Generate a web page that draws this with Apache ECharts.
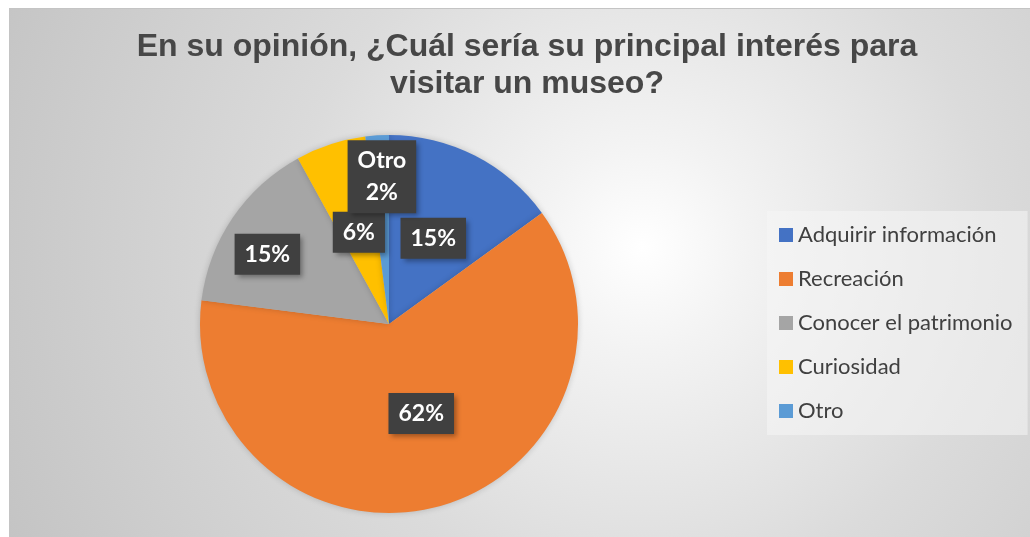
<!DOCTYPE html>
<html>
<head>
<meta charset="utf-8">
<script src="https://cdn.jsdelivr.net/npm/echarts@6/dist/echarts.min.js"></script>
<style>
    html, body { margin: 0; padding: 0; background: #fff; }
    #chart {
        position: absolute;
        left: 9px;
        top: 8px;
        width: 1021px;
        height: 529px;
        border-top: 1px solid #c4c4c4;
        border-left: 1px solid #c4c4c4;
        box-sizing: border-box;
    }
</style>
</head>
<body>
<div id="chart"></div>
<script>
const titleText = 'En su opinión, ¿Cuál sería su principal interés para\nvisitar un museo?';
const categories = ['Adquirir información', 'Recreación', 'Conocer el patrimonio', 'Curiosidad', 'Otro'];
const values = [15, 62, 15, 6, 2];
const colors = ['#4472C4', '#ED7D31', '#A5A5A5', '#FFC000', '#5B9BD5'];
// Excel moved a couple of labels away from the slice middle
const labelShift = [
    { dx: 0, dy: 1 },
    { dx: 8, dy: -5 },
    { dx: -41, dy: -15 },
    { dx: 0, dy: 1 },
    { dx: -1, dy: -50 }
];

const chartDom = document.getElementById('chart');
const myChart = echarts.init(chartDom);

const option = {
    backgroundColor: {
        type: 'radial',
        x: 0.62,
        y: 0.45,
        r: 1.32,
        colorStops: [
            { offset: 0, color: '#ffffff' },
            { offset: 0.15, color: '#f3f3f3' },
            { offset: 0.5, color: '#dbdbdb' },
            { offset: 1, color: '#c4c4c4' }
        ]
    },
    animation: false,
    color: colors,
    title: {
        text: titleText,
        left: 512,
        textAlign: 'center',
        top: 15,
        textStyle: {
            fontFamily: 'Liberation Sans',
            fontWeight: 'bold',
            fontSize: 32,
            lineHeight: 37,
            color: '#474747'
        }
    },
    legend: {
        orient: 'vertical',
        left: 757,
        top: 202,
        icon: 'rect',
        itemWidth: 14,
        itemHeight: 14,
        itemGap: 22,
        padding: [13, 15, 13, 12],
        backgroundColor: 'rgba(245,245,245,0.55)',
        textStyle: {
            fontFamily: 'Lato',
            fontSize: 22,
            color: '#404040'
        }
    },
    series: [
        {
            type: 'pie',
            center: [379, 315],
            radius: 189,
            startAngle: 90,
            clockwise: true,
            percentPrecision: 0,
            itemStyle: {
                shadowBlur: 6,
                shadowColor: 'rgba(0,0,0,0.18)'
            },
            emphasis: { disabled: true },
            label: {
                position: 'inside',
                formatter: function (p) {
                    return p.dataIndex === 4 ? p.name + '\n' + p.percent + '%' : p.percent + '%';
                },
                color: '#ffffff',
                fontFamily: 'Lato',
                fontWeight: 'bold',
                fontSize: 23,
                lineHeight: 32,
                backgroundColor: '#404040',
                padding: [5, 10, 4, 10],
                shadowBlur: 5,
                shadowOffsetX: 3,
                shadowOffsetY: 3,
                shadowColor: 'rgba(0,0,0,0.35)'
            },
            labelLine: { show: false },
            labelLayout: function (params) {
                return labelShift[params.dataIndex];
            },
            data: categories.map((name, i) => ({ name: name, value: values[i] }))
        }
    ]
};

myChart.setOption(option);
</script>
</body>
</html>
